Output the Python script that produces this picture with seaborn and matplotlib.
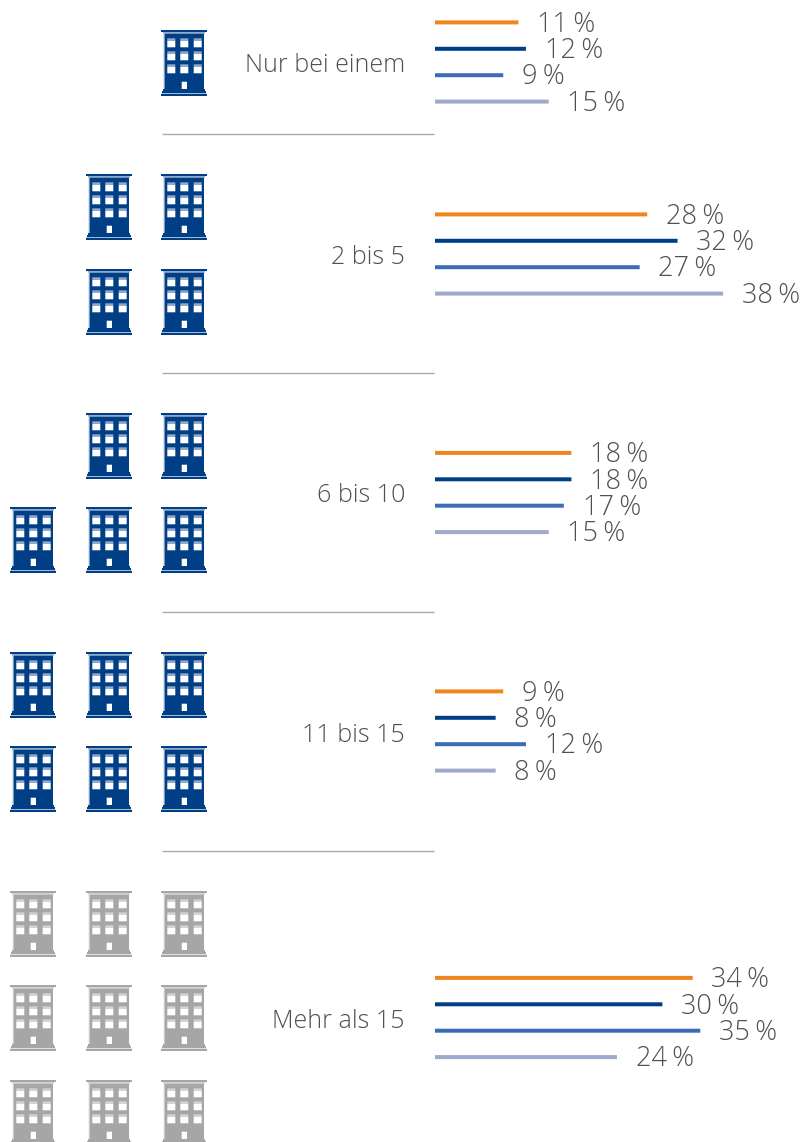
import pandas as pd
import matplotlib.pyplot as plt
import seaborn as sns
from matplotlib.patches import Rectangle

W, H = 803, 1142

# Chart data
groups = ['Nur bei einem', '2 bis 5', '6 bis 10', '11 bis 15', 'Mehr als 15']
series = ['a', 'b', 'c', 'd']
values_a = [11, 28, 18, 9, 34]
values_b = [12, 32, 18, 8, 30]
values_c = [9, 27, 17, 12, 35]
values_d = [15, 38, 15, 8, 24]
icons_per_row = [[1], [2, 2], [2, 3], [3, 3], [3, 3, 3]]
bar_colors = ['#F0851E', '#003E85', '#3A6DB5', '#9FA9CC']

# Layout in pixels
group_y = [62, 254, 492.5, 731, 1017.5]
label_y = [66, 257, 496, 735, 1021]
rule_y = [134, 373, 612, 851]
icon_top = [[30], [174, 269], [413, 507], [652, 746], [891, 985, 1080]]
col_x = [184, 109, 33]
row_step = 26.4
px_per_pct = 7.58

sns.set_theme(style='white')
plt.rcParams['font.family'] = ['Open Sans', 'DejaVu Sans']
TEXT = '#505050'

fig = plt.figure(figsize=(W / 100, H / 100), dpi=100)
bg = fig.add_axes([0, 0, 1, 1])
bg.set_xlim(0, W)
bg.set_ylim(H, 0)
bg.axis('off')


def draw_building(ax, cx, top, main, light):
    def box(x0, y0, x1, y1, c):
        ax.add_patch(Rectangle((cx + x0, top + y0), x1 - x0, y1 - y0, fc=c, ec='none', lw=0, snap=False))
    box(-23, 0, 23, 2, main)
    box(-21, 2, 21, 3.6, light)
    box(-20.3, 3.6, -19.3, 59, light)
    box(-19.3, 3.6, 20, 59, main)
    for wy in [8.3, 21.3, 34.3]:
        for wx in [-16.7, -3.7, 9.7]:
            box(wx, wy, wx + 8, wy + 2.4, light)
            box(wx, wy + 2.4, wx + 8, wy + 9, 'white')
    box(-2.3, 51.7, 3, 59, 'white')
    box(-21, 59, 21, 61, main)
    box(-22, 61, 22, 63.2, main)
    box(-23, 63.8, 23, 66, main)


for g, name in enumerate(groups):
    main, light = ('#A6A6A6', '#D2D2D2') if g == 4 else ('#003E85', '#8FA9CC')
    for top, n in zip(icon_top[g], icons_per_row[g]):
        for cx in col_x[:n]:
            draw_building(bg, cx, top, main, light)
    bg.text(405, label_y[g], name, ha='right', va='center', fontsize=18,
            color=TEXT, fontweight='light')

    # bars for this group, one small axes each
    df = pd.DataFrame({'series': series,
                       'value': [values_a[g], values_b[g], values_c[g], values_d[g]]})
    h = row_step * 4
    ax = fig.add_axes([435 / W, 1 - (group_y[g] + h / 2) / H, (W - 435) / W, h / H])
    ax.patch.set_alpha(0)
    sns.barplot(data=df, y='series', x='value', hue='series', order=series, hue_order=series,
                palette=bar_colors, width=4 / row_step, legend=False, ax=ax, saturation=1,
                linewidth=0)
    for bar in ax.patches:
        bar.set_snap(False)
    ax.set_xlim(0, (W - 435) / px_per_pct)
    ax.axis('off')
    for i, v in enumerate(df['value']):
        ax.annotate(f'{v}\u2009%', (v, i), xytext=(13.5, -1.6), textcoords='offset points',
                    ha='left', va='center', fontsize=19.5, color=TEXT, fontweight='light')

for y in rule_y:
    bg.plot([162, 434], [y, y], color='#ABABAB', lw=1, solid_capstyle='butt')

fig.savefig('out.png', dpi=100)
